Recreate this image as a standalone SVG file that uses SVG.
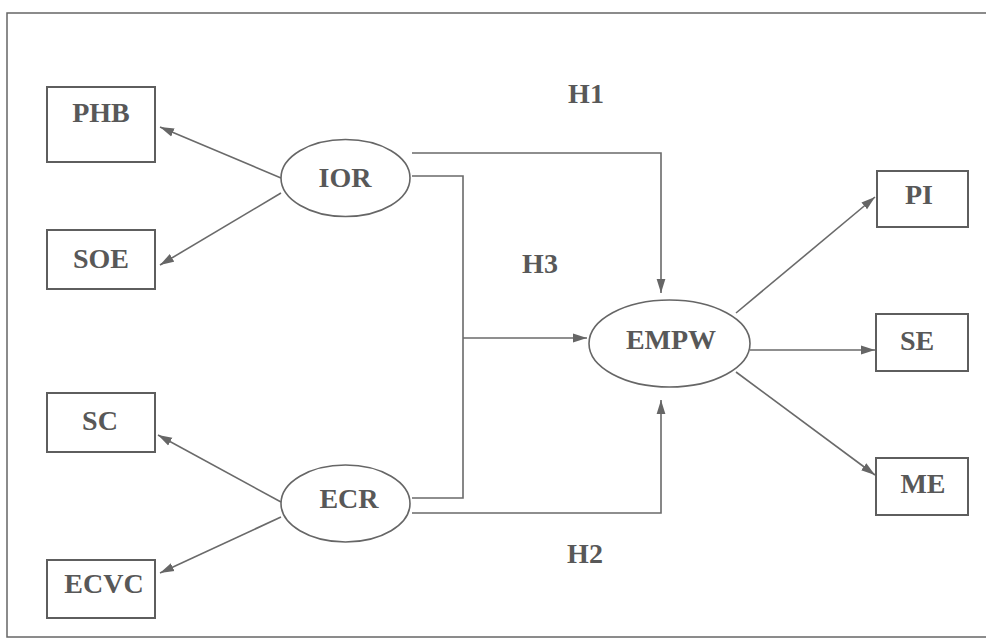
<svg xmlns="http://www.w3.org/2000/svg" width="986" height="640" viewBox="0 0 986 640">
<style>
  .box { fill: #ffffff; stroke: #5e5e5e; stroke-width: 2; }
  .ell { fill: #ffffff; stroke: #666666; stroke-width: 1.6; }
  .lbl { font-family: "Liberation Serif", "Times New Roman", serif; font-weight: bold; font-size: 28px; fill: #585858; text-anchor: middle; }
  .con { fill: none; stroke: #6a6a6a; stroke-width: 1.6; }
  .arr { marker-end: url(#ah); }
</style>
<defs>
  <marker id="ah" markerUnits="userSpaceOnUse" markerWidth="15" markerHeight="10" refX="14" refY="5" orient="auto">
    <path d="M0,0.6 L14,5 L0,9.4 Z" fill="#666666"/>
  </marker>
</defs>
<rect x="0" y="0" width="986" height="640" fill="#ffffff"/>
<rect id="frame" x="7" y="13" width="990" height="624" fill="none" stroke="#666666" stroke-width="1.5"/>

<g id="connectors">
  <line class="con arr" x1="281" y1="178" x2="160" y2="127"/>
  <line class="con arr" x1="281" y1="193" x2="160" y2="265"/>
  <line class="con arr" x1="281" y1="502" x2="158" y2="435"/>
  <line class="con arr" x1="281" y1="517" x2="160" y2="573"/>
  <polyline class="con arr" points="412,153 661,153 661,293"/>
  <polyline class="con" points="412,176 463,176 463,498 412,498"/>
  <line class="con arr" x1="463" y1="338" x2="587" y2="338"/>
  <polyline class="con arr" points="412,513 661,513 661,400"/>
  <line class="con arr" x1="736" y1="313" x2="875" y2="197"/>
  <line class="con arr" x1="750" y1="350" x2="875" y2="350"/>
  <line class="con arr" x1="736" y1="372" x2="875" y2="475"/>
</g>

<g id="PHB"><rect class="box" x="47" y="87" width="108" height="75"/><text class="lbl" x="101" y="122">PHB</text></g>
<g id="SOE"><rect class="box" x="47" y="230" width="108" height="59"/><text class="lbl" x="101" y="268">SOE</text></g>
<g id="SC"><rect class="box" x="47" y="393" width="108" height="59"/><text class="lbl" x="100" y="430">SC</text></g>
<g id="ECVC"><rect class="box" x="47" y="560" width="108" height="58"/><text class="lbl" x="104" y="593">ECVC</text></g>

<g id="IOR"><ellipse class="ell" cx="345.5" cy="178" rx="64.5" ry="38.5"/><text class="lbl" x="345" y="187">IOR</text></g>
<g id="ECR"><ellipse class="ell" cx="345.5" cy="503.5" rx="64.5" ry="38.5"/><text class="lbl" x="349" y="508">ECR</text></g>
<g id="EMPW"><ellipse class="ell" cx="669.5" cy="343.5" rx="80.5" ry="43.5"/><text class="lbl" x="671" y="349">EMPW</text></g>

<g id="PI"><rect class="box" x="877" y="171" width="91" height="56"/><text class="lbl" x="919" y="204">PI</text></g>
<g id="SE"><rect class="box" x="876" y="314" width="92" height="57"/><text class="lbl" x="917" y="350">SE</text></g>
<g id="ME"><rect class="box" x="876" y="458" width="92" height="57"/><text class="lbl" x="923" y="493">ME</text></g>

<g id="labels">
  <text class="lbl" x="586" y="103">H1</text>
  <text class="lbl" x="540" y="273">H3</text>
  <text class="lbl" x="585" y="563">H2</text>
</g>
</svg>
